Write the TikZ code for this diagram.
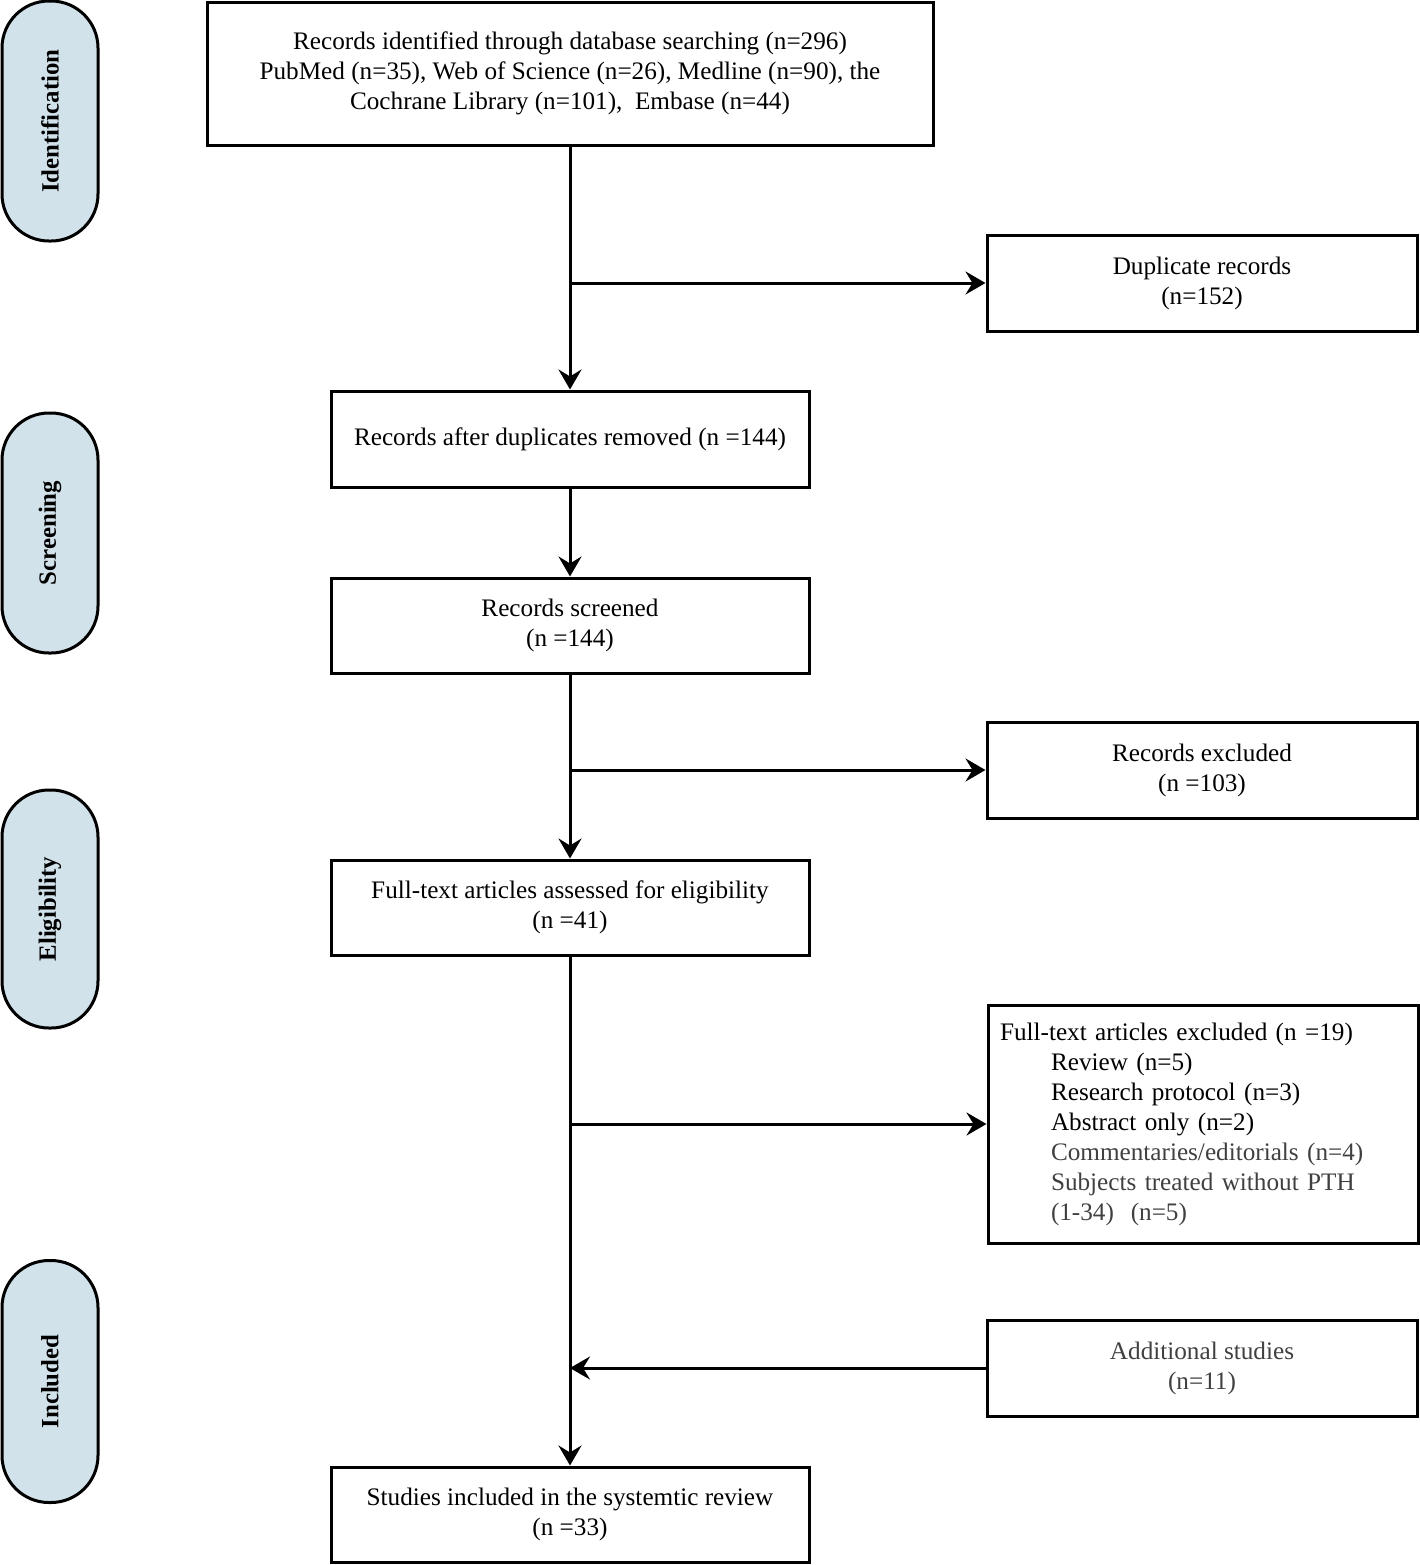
\documentclass[tikz,border=0pt]{standalone}
\usepackage{fontspec}
\setmainfont{Liberation Serif}
\usetikzlibrary{arrows.meta}
\definecolor{lanefill}{RGB}{210,226,234}
\definecolor{graytxt}{RGB}{64,64,64}
\begin{document}
\begin{tikzpicture}[x=0.5pt,y=-0.5pt,
  every node/.style={font=\fontsize{12.6}{15}\selectfont},
  box/.style={draw,line width=1.5pt,inner sep=0pt,align=center,minimum height=48pt},
  lane/.style={draw,line width=1.5pt,fill=lanefill,rounded corners=23.5pt,minimum width=48pt,inner sep=0pt},
  lanetext/.style={rotate=90,font=\fontsize{12.4}{14}\selectfont\bfseries},
  conn/.style={line width=1.5pt},
  arr/.style={line width=1.5pt,-{Stealth[length=10pt,width=11.5pt,inset=3.5pt]}}
]
\useasboundingbox (0,0) rectangle (1420,1565);

% lanes
\node[lane,minimum height=120pt] (l1) at (50,121) {};
\node[lanetext] (t1) at (l1.center) {Identification};
\node[lane,minimum height=120pt] (l2) at (50,533) {};
\node[lanetext] (t2) at (l2.center) {Screening};
\node[lane,minimum height=119pt] (l3) at (50,909) {};
\node[lanetext] (t3) at (l3.center) {Eligibility};
\node[lane,minimum height=121pt] (l4) at (50,1381.5) {};
\node[lanetext] (t4) at (l4.center) {Included};

% boxes
\node[box,minimum width=363pt,minimum height=71.5pt] (id) at (570,73.5)
  {Records identified through database searching (n=296)\\
   PubMed (n=35), Web of Science (n=26), Medline (n=90), the\\
   Cochrane Library (n=101),~~Embase (n=44)};
\node[box,minimum width=215pt] (dup) at (1202,283) {Duplicate records\\(n=152)};
\node[box,minimum width=239pt] (after) at (570,439) {Records after duplicates removed (n =144)};
\node[box,minimum width=239pt,minimum height=47.5pt] (scr) at (570,625.5) {Records screened\\(n =144)};
\node[box,minimum width=215pt] (exc) at (1202,770) {Records excluded\\(n =103)};
\node[box,minimum width=239pt,minimum height=47.5pt] (ft) at (570,907.5) {Full-text articles assessed for eligibility\\(n =41)};
\node[box,minimum width=215pt,minimum height=119pt,text width=203pt,inner xsep=5.5pt,align=left] (ftx) at (1203,1124)
  {Full-text articles excluded (n =19)\\
   \hspace*{25.5pt}Review (n=5)\\
   \hspace*{25.5pt}Research protocol (n=3)\\
   \hspace*{25.5pt}Abstract only (n=2)\\
   \hspace*{25.5pt}\textcolor{graytxt}{Commentaries/editorials (n=4)}\\
   \hspace*{25.5pt}\textcolor{graytxt}{Subjects treated without PTH}\\
   \hspace*{25.5pt}\textcolor{graytxt}{(1-34)~~(n=5)}};
\node[box,minimum width=215pt,text=graytxt] (add) at (1202,1368) {Additional studies\\(n=11)};
\node[box,minimum width=239pt,minimum height=47.5pt] (inc) at (570,1514.5) {Studies included in the systemtic review\\(n =33)};

% junctions
\coordinate (j1) at (id.south |- dup.west);
\coordinate (j2) at (scr.south |- exc.west);
\coordinate (j3) at (ft.south |- ftx.west);
\coordinate (j4) at (ft.south |- add.west);

% connectors
\draw[arr] (id.south) -- (after.north);
\draw[arr] (j1) -- (dup.west);
\draw[arr] (after.south) -- (scr.north);
\draw[arr] (scr.south) -- (ft.north);
\draw[arr] (j2) -- (exc.west);
\draw[arr] (ft.south) -- (inc.north);
\draw[arr] (j3) -- (ftx.west);
\draw[arr] (add.west) -- (j4);
\end{tikzpicture}
\end{document}
